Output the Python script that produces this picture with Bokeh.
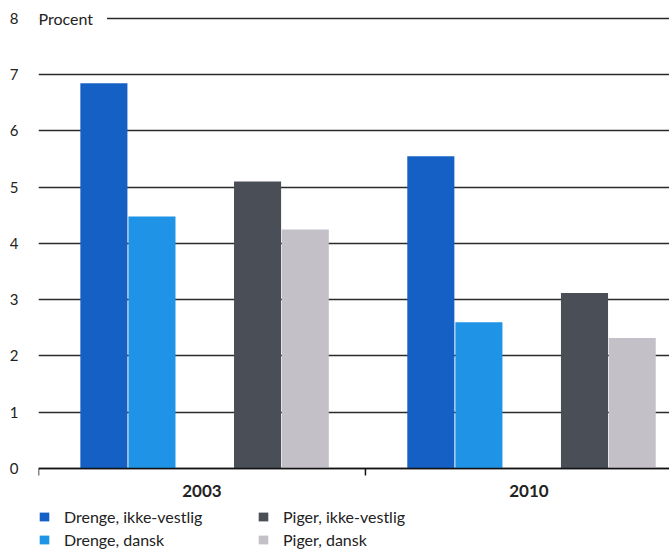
import math
from bokeh.plotting import figure
from bokeh.models import Range1d, FixedTicker, Legend, LegendItem, Label, ColumnDataSource
from bokeh.transform import dodge
from bokeh.core.properties import value
from bokeh.embed import file_html
from bokeh.resources import INLINE

# ---- data ----
years = ["2003", "2010"]
drenge_ikke_vestlig = [6.85, 5.55]
drenge_dansk = [4.48, 2.60]
piger_ikke_vestlig = [5.10, 3.12]
piger_dansk = [4.25, 2.32]
series_labels = ["Drenge, ikke-vestlig", "Drenge, dansk", "Piger, ikke-vestlig", "Piger, dansk"]
y_ticks = [0, 1, 2, 3, 4, 5, 6, 7, 8]
y_title = "Procent"

# ---- styling ----
colors = ["#1560c4", "#1f93e6", "#4a4f57", "#c4c0c8"]
offsets = [0.200, 0.347, 0.670, 0.816]
bar_w = 0.144
FONT = "Lato"
TXT = "#222222"

group_idx = [float(i) for i in range(len(years))]
centers = [g + 0.5 for g in group_idx]
bounds = [float(i) for i in range(len(years) + 1)]

source = ColumnDataSource(dict(g=group_idx, year=years,
                               s0=drenge_ikke_vestlig, s1=drenge_dansk,
                               s2=piger_ikke_vestlig, s3=piger_dansk))

p = figure(width=669, height=552, output_backend="svg", toolbar_location=None,
           x_range=Range1d(0, 1.93), y_range=Range1d(-1.494, 8.142),
           x_axis_location=None,
           min_border_top=10, min_border_left=38, min_border_right=0, min_border_bottom=0)
p.outline_line_color = None
p.background_fill_color = "white"
p.border_fill_color = "white"

p.xgrid.visible = False
p.ygrid.ticker = FixedTicker(ticks=y_ticks)
p.ygrid.grid_line_color = "#2a2a2a"
p.ygrid.grid_line_width = 1.3

renderers = []
for i, key in enumerate(["s0", "s1", "s2", "s3"]):
    r = p.vbar(x=dodge("g", offsets[i], range=p.x_range), top=key, width=bar_w, bottom=0,
               source=source, fill_color=colors[i], line_color=None)
    renderers.append(r)

# category axis: baseline, boundary ticks and year labels
p.ray(x=bounds, y=[0] * len(bounds), length=7, length_units="screen",
      angle=-math.pi / 2, line_color="#111111", line_width=1.5)
p.ray(x=[0], y=[0], length=0, angle=0, line_color="#111111", line_width=1.6)
p.text(x=centers, y=[0] * len(centers), text=years, y_offset=23,
       text_font=value(FONT), text_font_size="17px", text_font_style="bold",
       text_color=TXT, text_align="center", text_baseline="middle")

# y axis
ya = p.yaxis[0]
ya.ticker = FixedTicker(ticks=y_ticks)
ya.axis_line_color = None
ya.major_tick_line_color = None
ya.minor_tick_line_color = None
ya.major_label_text_font = FONT
ya.major_label_text_font_size = "15px"
ya.major_label_text_color = TXT
ya.major_label_standoff = 14

lab = Label(x=0, y=y_ticks[-1], text=y_title, text_font=FONT, text_font_size="16px",
            text_color=TXT, text_baseline="middle", text_align="left",
            x_offset=0, background_fill_color="white", padding=(0, 14, 0, 0))
p.add_layout(lab)

def make_legend(idx, loc):
    items = [LegendItem(label=series_labels[i], renderers=[renderers[i]]) for i in idx]
    return Legend(items=items, location=loc, orientation="vertical",
                  label_text_font=FONT, label_text_font_size="16px", label_text_color=TXT,
                  glyph_width=12, glyph_height=11, label_height=20,
                  label_standoff=14, spacing=3, padding=0, margin=0,
                  border_line_alpha=0, background_fill_alpha=0)

p.add_layout(make_legend([0, 1], (0, 3)))
p.add_layout(make_legend([2, 3], (219, 3)))

open("out.html", "w").write(file_html(p, INLINE))
